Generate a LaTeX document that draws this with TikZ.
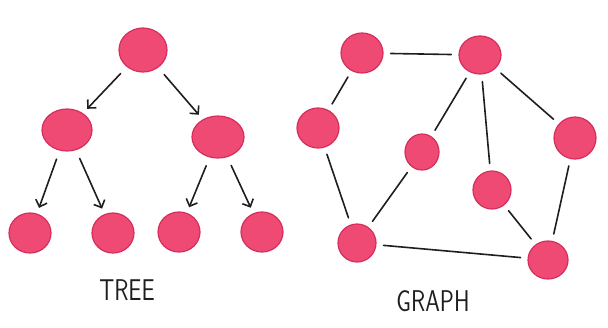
\documentclass[tikz,border=0pt]{standalone}
\usepackage{fontspec}
\usetikzlibrary{shapes.geometric,arrows.meta}
\definecolor{dotfill}{HTML}{EE4A74}
\definecolor{dotedge}{HTML}{D62E5C}
\definecolor{ink}{HTML}{1E1E1E}
\begin{document}
\begin{tikzpicture}[x=1pt,y=-1pt,
  dot/.style={ellipse,fill=dotfill,draw=dotedge,line width=1.2pt,inner sep=0pt,minimum width=#1},
  dot/.default=40pt,
  tarrow/.style={draw=ink,line width=1.6pt,line cap=round,-{Straight Barb[length=6pt,width=12pt,line width=1.6pt]},shorten <=9pt,shorten >=6pt},
  gedge/.style={draw=ink,line width=1.6pt,line cap=round,shorten <=7pt,shorten >=7pt},
  lbl/.style={font=\sffamily\fontsize{30}{30}\selectfont,text=ink,xscale=0.78}
]
\useasboundingbox (0,0) rectangle (608,327);
% tree
\node[dot=48pt,minimum height=44pt] (r) at (143,50) {};
\node[dot=50pt,minimum height=42pt] (l) at (67,130) {};
\node[dot=52pt,minimum height=42pt] (rr) at (218,137) {};
\node[dot=42pt,minimum height=40pt] (l1) at (30,233) {};
\node[dot=42pt,minimum height=40pt] (l2) at (113,233) {};
\node[dot=42pt,minimum height=40pt] (l3) at (179,232) {};
\node[dot=42pt,minimum height=40pt] (l4) at (262,232) {};
\draw[tarrow] (r) -- (l);
\draw[tarrow] (r) -- (rr);
\draw[tarrow] (l) -- (l1);
\draw[tarrow] (l) -- (l2);
\draw[tarrow] (rr) -- (l3);
\draw[tarrow] (rr) -- (l4);
\node[lbl] (tl) at (127,290) {TREE};
% graph
\node[dot=42pt,minimum height=40pt] (a) at (362,53) {};
\node[dot=42pt,minimum height=38pt] (b) at (480,55) {};
\node[dot=42pt,minimum height=40pt] (c) at (318,128) {};
\node[dot=34pt,minimum height=36pt] (d) at (422,152) {};
\node[dot=42pt,minimum height=42pt] (e) at (575,138) {};
\node[dot=38pt,minimum height=38pt] (f) at (492,190) {};
\node[dot=38pt,minimum height=38pt] (g) at (357,243) {};
\node[dot=40pt,minimum height=38pt] (h) at (548,260) {};
\draw[gedge] (a) -- (b);
\draw[gedge] (a) -- (c);
\draw[gedge] (c) -- (g);
\draw[gedge] (g) -- (d);
\draw[gedge] (d) -- (b);
\draw[gedge] (b) -- (f);
\draw[gedge] (b) -- (e);
\draw[gedge] (e) -- (h);
\draw[gedge] (f) -- (h);
\draw[gedge] (g) -- (h);
\node[lbl] (gl) at (433,301) {GRAPH};
\end{tikzpicture}
\end{document}
